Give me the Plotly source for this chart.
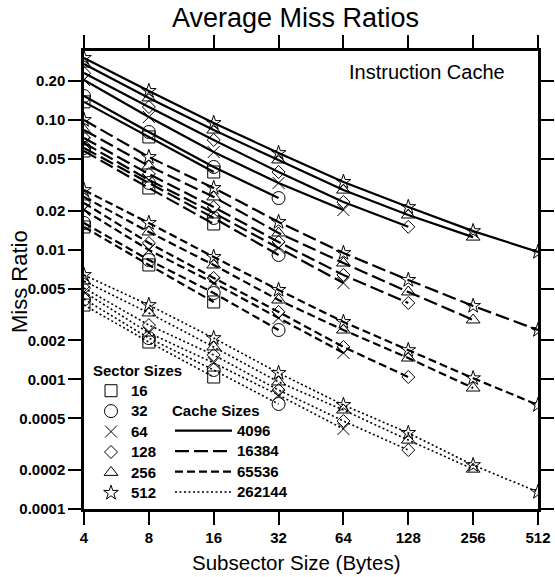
import plotly.graph_objects as go

# ---------------- data ----------------
subsectors = [4, 8, 16, 32, 64, 128, 256, 512]
sector_sizes = [16, 32, 64, 128, 256, 512]
cache_sizes = [4096, 16384, 65536, 262144]

# miss ratios, keyed by sector size; values for subsector sizes 4 .. sector size
miss_4096 = {
    16:  [0.138, 0.0740, 0.0397],
    32:  [0.153, 0.0808, 0.0434, 0.0250],
    64:  [0.2035, 0.1055, 0.0566, 0.0327, 0.0202],
    128: [0.230, 0.126, 0.0701, 0.0397, 0.0233, 0.0150],
    256: [0.270, 0.148, 0.0837, 0.0492, 0.0288, 0.0185, 0.0125],
    512: [0.301, 0.1675, 0.0948, 0.0556, 0.0333, 0.0213, 0.0139, 0.0096],
}
miss_16384 = {
    16:  [0.0577, 0.0299, 0.01578],
    32:  [0.0608, 0.0327, 0.01755, 0.0091],
    64:  [0.0665, 0.0345, 0.0192, 0.0103, 0.00553],
    128: [0.0727, 0.0383, 0.0213, 0.01146, 0.00638, 0.00388],
    256: [0.0837, 0.0442, 0.0255, 0.01345, 0.00789, 0.00472, 0.00287],
    512: [0.100, 0.0518, 0.0299, 0.01634, 0.00942, 0.00584, 0.00368, 0.00240],
}
miss_65536 = {
    16:  [0.01496, 0.00762, 0.00395],
    32:  [0.01606, 0.00832, 0.00463, 0.00240],
    64:  [0.0202, 0.00994, 0.00553, 0.00297, 0.00160],
    128: [0.0229, 0.01126, 0.00605, 0.00331, 0.001776, 0.001042],
    256: [0.0255, 0.01369, 0.00762, 0.00409, 0.00240, 0.00146, 0.000857],
    512: [0.0288, 0.01606, 0.00878, 0.00489, 0.00277, 0.00168, 0.00102, 0.000634],
}
miss_262144 = {
    16:  [0.00374, 0.00194, 0.001042],
    32:  [0.00416, 0.00208, 0.00118, 0.000645],
    64:  [0.00472, 0.00228, 0.001337, 0.000757, 0.000414],
    128: [0.00506, 0.00262, 0.00154, 0.000827, 0.000477, 0.000285],
    256: [0.00573, 0.00325, 0.001776, 0.000954, 0.000580, 0.000340, 0.000203],
    512: [0.00638, 0.00374, 0.00208, 0.001119, 0.000634, 0.000386, 0.000218, 0.0001353],
}
miss_by_cache = {4096: miss_4096, 16384: miss_16384, 65536: miss_65536, 262144: miss_262144}

y_tickvals = [0.2, 0.1, 0.05, 0.02, 0.01, 0.005, 0.002, 0.001, 0.0005, 0.0002, 0.0001]
y_ticktext = ["0.20", "0.10", "0.05", "0.02", "0.01", "0.005", "0.002", "0.001", "0.0005", "0.0002", "0.0001"]
x_tickvals = subsectors
x_ticktext = [str(v) for v in subsectors]

# ---------------- styles ----------------
symbols = {16: "square-open", 32: "circle-open", 64: "x-thin-open",
           128: "diamond-open", 256: "triangle-up-open", 512: "star-open"}
msize = {16: 12, 32: 13, 64: 12, 128: 10, 256: 12, 512: 11}
dashes = {4096: "solid", 16384: "14px,5px", 65536: "8px,4px", 262144: "2px,2.5px"}
lwidth = {4096: 2.2, 16384: 2.2, 65536: 2.2, 262144: 1.6}

FONT = "Liberation Sans, Arial, sans-serif"

fig = go.Figure()

for c in cache_sizes:
    for s in sector_sizes:
        ys = miss_by_cache[c][s]
        xs = subsectors[:len(ys)]
        fig.add_trace(go.Scatter(
            x=xs, y=ys, mode="lines+markers", showlegend=False,
            line=dict(color="black", width=lwidth[c], dash=dashes[c]),
            marker=dict(symbol=symbols[s], size=msize[s], color="black",
                        line=dict(color="black", width=1)),
            hoverinfo="skip",
        ))

SPAN = "<span style='font-size:15px'>{}</span>"

# legend entries: sector sizes (markers)
for s in sector_sizes:
    fig.add_trace(go.Scatter(
        x=[None], y=[None], mode="markers", name=SPAN.format(s), legend="legend",
        marker=dict(symbol=symbols[s], size=msize[s], color="black",
                    line=dict(color="black", width=1)),
    ))
# legend entries: cache sizes (lines)
for c in cache_sizes:
    fig.add_trace(go.Scatter(
        x=[None], y=[None], mode="lines", name=SPAN.format(c), legend="legend2",
        line=dict(color="black", width=lwidth[c], dash=dashes[c]),
    ))

L, R, T, B = 84, 17, 51, 68
W, H = 555, 577
pw, ph = W - L - R, H - T - B

def px_x(px):
    return (px - L) / pw

def px_y(py):
    return (H - B - py) / ph

axis_common = dict(
    showgrid=False, zeroline=False, showline=True, linecolor="black", linewidth=2.5,
    ticks="outside", ticklen=13, tickwidth=2, tickcolor="black", mirror="allticks",
    automargin=False,
    tickfont=dict(family=FONT, size=15, color="black", weight="bold"),
)

fig.update_layout(
    width=W, height=H, autosize=False,
    margin=dict(l=L, r=R, t=T, b=B, pad=0, autoexpand=False),
    paper_bgcolor="white", plot_bgcolor="white",
    font=dict(family=FONT, color="black"),
    xaxis=dict(type="log", range=[0.60206, 2.70927], tickvals=x_tickvals, ticktext=x_ticktext,
               **axis_common),
    yaxis=dict(type="log", range=[-4, -0.468], tickvals=y_tickvals, ticktext=y_ticktext,
               **axis_common),
    legend=dict(title=dict(text="Sector Sizes", font=dict(family=FONT, size=15, weight="bold")),
                font=dict(family=FONT, size=13.4, color="black", weight="bold"),
                x=px_x(91), y=px_y(356), xanchor="left", yanchor="top",
                bgcolor="rgba(0,0,0,0)", itemwidth=30, tracegroupgap=0),
    legend2=dict(title=dict(text="Cache Sizes", font=dict(family=FONT, size=15, weight="bold")),
                 font=dict(family=FONT, size=13.4, color="black", weight="bold"),
                 x=px_x(170), y=px_y(396), xanchor="left", yanchor="top",
                 bgcolor="rgba(0,0,0,0)", itemwidth=57, tracegroupgap=0),
    annotations=[
        dict(text="Average Miss Ratios", x=px_x(295), y=px_y(18), xref="paper", yref="paper",
             showarrow=False, xanchor="center", yanchor="middle",
             font=dict(family=FONT, size=27, color="black")),
        dict(text="Instruction Cache", x=px_x(507), y=px_y(72), xref="paper", yref="paper",
             showarrow=False, xanchor="right", yanchor="middle",
             font=dict(family=FONT, size=20, color="black")),
        dict(text="Subsector Size (Bytes)", x=px_x(296), y=px_y(562), xref="paper", yref="paper",
             showarrow=False, xanchor="center", yanchor="middle",
             font=dict(family=FONT, size=20.5, color="black")),
        dict(text="Miss Ratio", x=px_x(19), y=px_y(282), xref="paper", yref="paper",
             showarrow=False, xanchor="center", yanchor="middle", textangle=-90,
             font=dict(family=FONT, size=22, color="black")),
    ],
)

fig.write_html("out.html")
